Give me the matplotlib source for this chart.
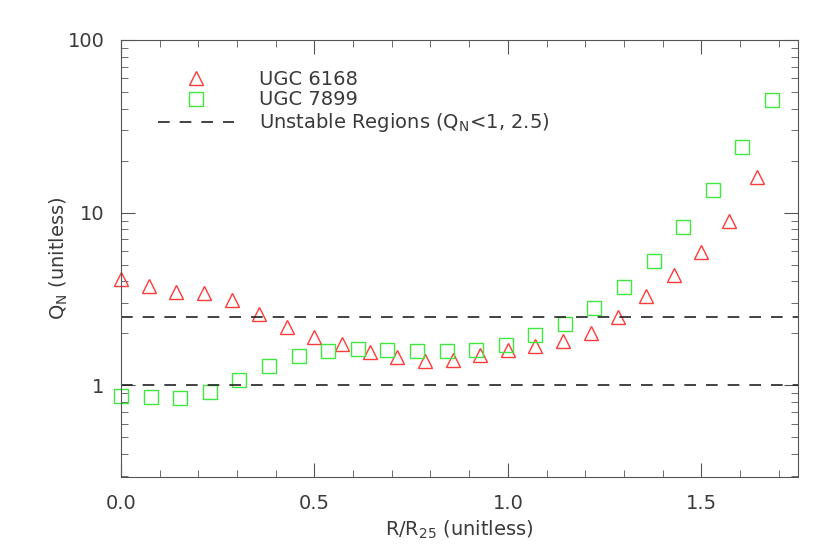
import matplotlib
matplotlib.use('Agg')
import matplotlib.pyplot as plt
from matplotlib.ticker import MultipleLocator, LogLocator, NullFormatter, FixedLocator, FixedFormatter

# UGC 6168 (triangles), spacing 1/14
r_6168 = [i / 14.0 for i in range(24)]
q_6168 = [4.15, 3.75, 3.46, 3.42, 3.13, 2.60, 2.17, 1.90, 1.73, 1.57, 1.46, 1.38,
          1.41, 1.49, 1.61, 1.70, 1.80, 2.02, 2.48, 3.31, 4.36, 5.90, 8.99, 16.0]

# UGC 7899 (squares)
r_7899 = [i * 0.0765 for i in range(23)]
q_7899 = [0.87, 0.855, 0.85, 0.92, 1.07, 1.29, 1.47, 1.59, 1.63, 1.61, 1.59, 1.58,
          1.61, 1.72, 1.95, 2.27, 2.81, 3.70, 5.28, 8.22, 13.6, 24.1, 44.8]

unstable_levels = [1.0, 2.5]

txt = '#3a3a3a'
plt.rcParams['font.family'] = ['DejaVu Sans']
plt.rcParams['mathtext.fontset'] = 'dejavusans'

fig = plt.figure(figsize=(8.3, 5.54), dpi=100)
ax = fig.add_axes([0.1458, 0.139, 0.8156, 0.789])

ax.plot(r_6168, q_6168, linestyle='none', marker='^', markersize=10,
        markerfacecolor='none', markeredgecolor='#ff3a3a', markeredgewidth=1.0,
        label='UGC 6168', clip_on=False)
ax.plot(r_7899, q_7899, linestyle='none', marker='s', markersize=10,
        markerfacecolor='none', markeredgecolor='#3ee83e', markeredgewidth=1.0,
        label='UGC 7899', clip_on=False)
for i, lev in enumerate(unstable_levels):
    ax.axhline(lev, color='#222222', linewidth=1.2, linestyle=(0, (7, 6)),
               label='Unstable Regions ($\\mathregular{Q_N}$<1, 2.5)' if i == 0 else None)

ax.set_yscale('log')
ax.set_xlim(0, 1.75)
ax.set_ylim(0.295, 100)

ax.xaxis.set_major_locator(MultipleLocator(0.5))
ax.xaxis.set_minor_locator(MultipleLocator(0.1))
ax.xaxis.set_major_formatter(plt.FuncFormatter(lambda v, p: f'{v:.1f}'))
ax.yaxis.set_major_locator(FixedLocator([1, 10, 100]))
ax.yaxis.set_major_formatter(FixedFormatter(['1', '10', '100']))
ax.yaxis.set_minor_locator(LogLocator(base=10, subs=range(2, 10)))
ax.yaxis.set_minor_formatter(NullFormatter())

ax.tick_params(which='both', direction='in', top=True, right=True, colors='#555555',
               labelcolor=txt, labelsize=14, pad=12)
ax.tick_params(which='major', length=10)
ax.tick_params(which='minor', length=5)
for s in ax.spines.values():
    s.set_color('#555555')

ax.set_xlabel('R/R$_{\\mathregular{25}}$ (unitless)', fontsize=14, color=txt)
ax.set_ylabel('Q$_{\\mathregular{N}}$ (unitless)', fontsize=14, color=txt, labelpad=-2)

leg = ax.legend(loc='upper left', bbox_to_anchor=(0.043, 0.95), frameon=False,
                fontsize=14, handlelength=3.9, handletextpad=1.3, labelspacing=0.1,
                borderaxespad=0)
for t in leg.get_texts():
    t.set_color(txt)

fig.savefig('out.png', dpi=100)
